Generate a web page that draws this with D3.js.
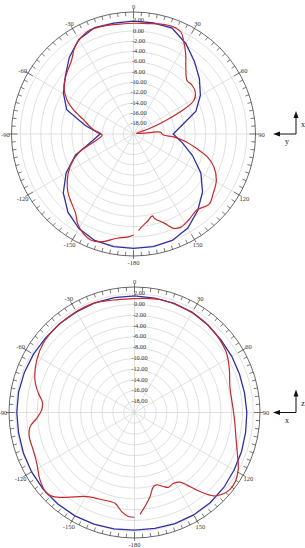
<!DOCTYPE html>
<html>
<head>
<meta charset="utf-8">
<script src="https://cdn.jsdelivr.net/npm/d3@7"></script>
<style>
  body { margin: 0; background: #fff; }
  svg { display: block; }
</style>
</head>
<body>
<svg class="chart"></svg>
<script>
	// ring values (dB) and angle labels
	var ringValues = [2, 0, -2, -4, -6, -8, -10, -12, -14, -16, -18];
	var angleLabels = [0, 30, 60, 90, 120, 150, -180, -150, -120, -90, -60, -30];

	// simulated pattern, sampled every 10 degrees
	var simAngles = [-170, -160, -150, -140, -130, -120, -110, -100, -90, -80, -70, -60, -50, -40, -30, -20, -10,
		0, 10, 20, 30, 40, 50, 60, 70, 80, 90, 100, 110, 120, 130, 140, 150, 160, 170, 180];

	// top plot (x-y plane)
	var simXY = [2.2, 2.0, 1.2, -0.2, -2.2, -4.9, -8.0, -11.8, -13.5, -10.5, -6.2, -4.3, -2.7, -0.6, 1.2, 2.0, 1.85,
		1.9, 1.9, 1.9, 0.3, -1.6, -3.3, -5.0, -7.1, -10.5, -12.3, -10.4, -7.8, -4.9, -2.5, -0.6, 1.1, 2.0, 2.2, 2.2];

	var measXYAngles = [-180, -177, -171, -163, -158, -153, -148, -144, -138, -132, -125, -117, -109, -105, -99, -92,
		-84, -79, -74, -68, -63, -56, -48, -40, -34, -28, -23, -15, -7, 0, 7, 14, 20, 25, 28, 33, 38, 45, 50, 56, 61,
		64, 67, 71, 79, 85, 86, 92, 94, 98, 103, 107, 112, 119, 127, 133, 140, 147, 153, 157, 161, 166, 167, 171, 175, 177];
	var measXY = [-0.4, 0.0, 0.5, 1.9, 2.2, 1.6, 0.5, -0.9, -2.0, -2.9, -4.3, -6.2, -8.7, -10.6, -12.8, -13.9,
		-12.2, -11.1, -9.9, -7.4, -5.5, -3.7, -2.5, -1.3, 0.4, 1.4, 1.9, 1.75, 1.5, 1.5, 1.6, 2.0, 2.2, 1.8, 0.65, -1.4, -3.5, -5.3, -5.2, -5.5, -6.6,
		-9.25, -13.0, -16.6, -19.4, -16.8, -14.8, -14.2, -12.2, -9.9, -7.4, -5.1, -3.2, -1.6, -0.66, 0.05, -0.8, -0.2, 0.3, -0.1, -1.7, -3.1, -3.7, -2.8, -1.9, -1.2];

	// bottom plot (x-z plane)
	var simXZ = [1.9, 2.0, 2.1, 2.1, 2.1, 2.0, 1.9, 1.8, 1.8, 1.8, 1.7, 1.6, 1.5, 1.5, 1.5, 1.6, 1.6,
		1.6, 1.5, 1.5, 1.4, 1.15, 0.9, 0.8, 0.7, 0.7, 0.8, 0.9, 1.1, 1.3, 1.6, 1.8, 1.9, 1.9, 1.8, 1.8];

	var measXZAngles = [-180, -176.6, -172.6, -167.9, -160.4, -150.4, -141.4, -136, -132.6, -125.5, -117.5, -110.3,
		-102.9, -97.7, -93.4, -88.5, -83.3, -78.7, -71.9, -61.8, -52.8, -42.2, -31.7, -20.7, -10.7, -0.6, 4.4, 12.7,
		21.1, 30.3, 38, 43.7, 49, 57.3, 65.9, 74.9, 82.7, 88.6, 96.2, 103.4, 111.7, 118.7, 124, 129, 133, 136.6, 140.4,
		144.3, 146.9, 151.3, 155.7, 158.8, 163, 165.8, 169.6, 172.4, 176.9];
	var measXZ = [-0.6, -0.7, -1.5, -2.8, -2.8, -2.1, 0.1, 1.65, 2.1, 1.5, 0.4, 0.0,
		0.0, -0.5, -1.85, -2.8, -2.8, -1.85, -0.6, 0.55, 1.2, 1.45, 1.55, 1.6, 1.2, 1.08, 1.2, 1.45,
		1.4, 1.35, 1.2, 1.0, 0.8, 0.28, -0.75, -1.7, -1.85, -1.7, -1.3, -0.7, 0.5, 1.9, 2.6, 2.7, 2.2, 1.27, -1.0,
		-3.5, -4.6, -5.0, -4.8, -5.3, -6.0, -5.8, -4.15, -3.0, -1.1];

	const colors = {
		sim: "#2f2fa8",
		meas: "#c42a2a",
		grid: "#d2d2d2",
		axis: "#444",
		text: "#333"
	};

	var svg = d3.select('.chart')
		.attr('width', 305)
		.attr('height', 548);

	var rad = (a) => a * Math.PI / 180;

	function drawPolar(cx, cy, R, ringR, sim, measAngles, meas, axisV, axisH) {
		var g = svg.append('g').attr('transform', 'translate(' + cx + ',' + cy + ')');

		// -20 dB in the middle, 2 dB at ringR
		var r = d3.scaleLinear().domain([-20, 2]).range([0, ringR]);

		// grid rings
		g.selectAll('.ring')
			.data(ringValues)
			.enter()
			.append('circle')
			.attr('r', (d) => r(d))
			.attr('fill', 'none')
			.attr('stroke', colors.grid)
			.attr('stroke-width', 0.7);

		// spokes every 30
		g.selectAll('.spoke')
			.data(d3.range(0, 360, 30))
			.enter()
			.append('line')
			.attr('x2', (d) => R * Math.sin(rad(d)))
			.attr('y2', (d) => -R * Math.cos(rad(d)))
			.attr('stroke', colors.grid)
			.attr('stroke-width', 0.7);

		// outer circle + ticks
		g.append('circle')
			.attr('r', R)
			.attr('fill', 'none')
			.attr('stroke', colors.axis)
			.attr('stroke-width', 0.8);

		g.selectAll('.tick')
			.data(d3.range(0, 360, 3.75))
			.enter()
			.append('line')
			.attr('x1', (d) => (d % 30 === 0 ? R + 3 : R) * Math.sin(rad(d)))
			.attr('y1', (d) => -(d % 30 === 0 ? R + 3 : R) * Math.cos(rad(d)))
			.attr('x2', (d) => (d % 30 === 0 ? R - 6 : R - 4) * Math.sin(rad(d)))
			.attr('y2', (d) => -(d % 30 === 0 ? R - 6 : R - 4) * Math.cos(rad(d)))
			.attr('stroke', colors.axis)
			.attr('stroke-width', 0.7);

		g.selectAll('.alabel')
			.data(angleLabels)
			.enter()
			.append('text')
			.attr('x', (d) => (R + 6) * Math.sin(rad(d)))
			.attr('y', (d) => -(R + 6) * Math.cos(rad(d)))
			.attr('text-anchor', 'middle')
			.attr('dominant-baseline', 'central')
			.attr('font-family', 'Liberation Serif, serif')
			.attr('font-size', 6.5)
			.attr('fill', colors.text)
			.text((d) => d);

		// the curves
		var line = d3.lineRadial()
			.angle((d) => rad(d[0]))
			.radius((d) => r(d[1]));

		g.append('path')
			.datum(simAngles.map((a, i) => [a, sim[i]]))
			.attr('d', line.curve(d3.curveLinearClosed))
			.attr('fill', 'none')
			.attr('stroke', colors.sim)
			.attr('stroke-width', 1.3);

		g.append('path')
			.datum(measAngles.map((a, i) => [a, meas[i]]))
			.attr('d', line.curve(d3.curveCatmullRom))
			.attr('fill', 'none')
			.attr('stroke', colors.meas)
			.attr('stroke-width', 1.2);

		// ring labels
		g.selectAll('.rlabel')
			.data(ringValues)
			.enter()
			.append('text')
			.attr('x', 5)
			.attr('y', (d) => -r(d) - 1)
			.attr('text-anchor', 'middle')
			.attr('dominant-baseline', 'central')
			.attr('font-family', 'Liberation Serif, serif')
			.attr('font-size', 6.3)
			.attr('fill', colors.text)
			.text((d) => d.toFixed(2));

		// little axis sign on the right
		var ax = svg.append('g').attr('transform', 'translate(' + 296 + ',' + cy + ')');
		ax.append('line').attr('x1', 0).attr('y1', 0).attr('x2', 0).attr('y2', -18)
			.attr('stroke', '#111').attr('stroke-width', 1);
		ax.append('line').attr('x1', 0).attr('y1', 0).attr('x2', -18).attr('y2', 0)
			.attr('stroke', '#111').attr('stroke-width', 1);
		ax.append('path').attr('d', 'M0,-23L-2.5,-16L2.5,-16Z').attr('fill', '#111');
		ax.append('path').attr('d', 'M-23,0L-16,-2.5L-16,2.5Z').attr('fill', '#111');
		ax.append('text').attr('x', 7).attr('y', -7)
			.attr('font-family', 'Liberation Serif, serif').attr('font-size', 8)
			.attr('text-anchor', 'middle').attr('fill', '#111')
			.text(axisV);
		ax.append('text').attr('x', -9).attr('y', 10)
			.attr('font-family', 'Liberation Serif, serif').attr('font-size', 8)
			.attr('text-anchor', 'middle').attr('fill', '#111')
			.text(axisH);
	}

	drawPolar(133.5, 134, 122, 113.3, simXY, measXYAngles, measXY, 'x', 'y');
	drawPolar(134.5, 412.5, 125.5, 118.8, simXZ, measXZAngles, measXZ, 'z', 'x');
</script>
</body>
</html>
